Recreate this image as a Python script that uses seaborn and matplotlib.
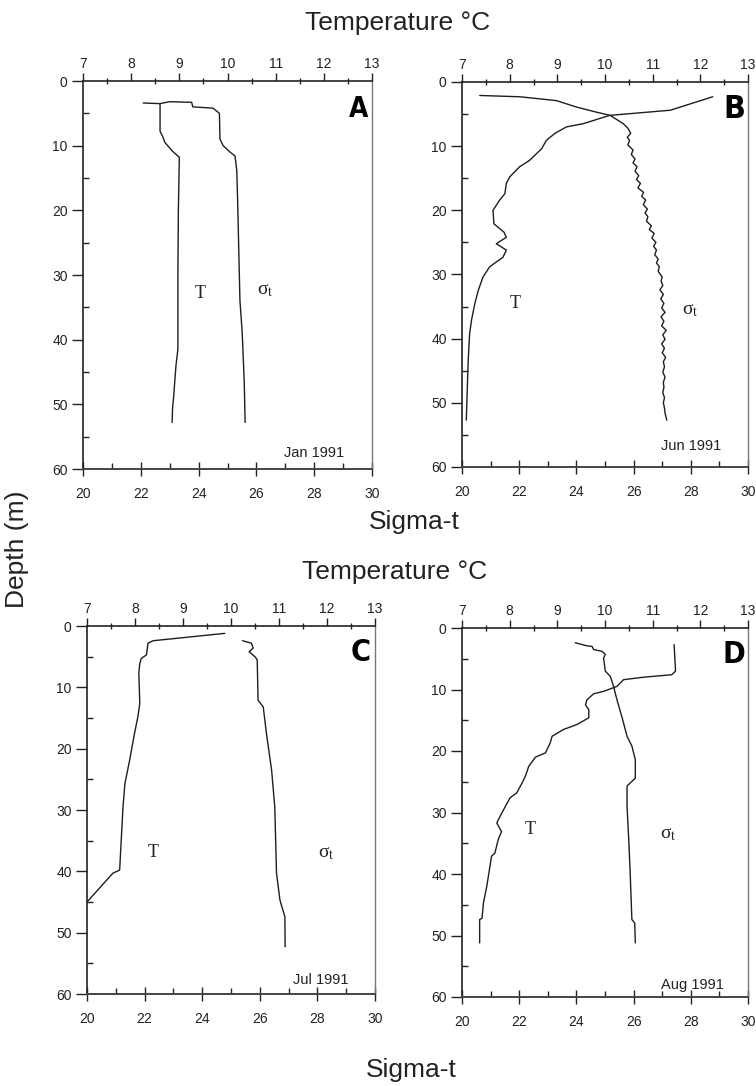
"""
Temperature / sigma-t depth profiles, Jan-Aug 1991 (four panels).
"""

import matplotlib
matplotlib.use("Agg")
import matplotlib.pyplot as plt
import seaborn as sns
from matplotlib.ticker import MultipleLocator

# --- data -----------------------------------------------------------------
# Jan 1991 (A)
jan_t_depth = [3.4, 3.5, 7.8, 8.5, 9.5, 10.8, 11.8, 20, 30, 41.5, 44, 49, 50.5, 52.8]
jan_temp = [8.25, 8.6, 8.6, 8.65, 8.7, 8.85, 9.0, 8.98, 8.97, 8.97, 8.93, 8.88, 8.86, 8.85]
jan_s_depth = [3.5, 3.2, 3.3, 4.0, 4.2, 5.0, 9.0, 10.0, 11.0, 11.6, 13.8, 18.4, 33.9, 39, 46.7, 52.8]
jan_sigma = [22.66, 23.0, 23.76, 23.8, 24.5, 24.72, 24.74, 24.85, 25.09, 25.26, 25.32, 25.35,
             25.43, 25.51, 25.58, 25.61]

# Jun 1991 (B)
jun_t_depth = [2.3, 4.4, 5.2, 6.5, 7.0, 8.0, 9.1, 10.4, 12.2, 13.2, 14.8, 15.8, 17.4, 18.4, 20.0,
               22.1, 23.4, 24.2, 25.2, 26.2, 27.3, 28.8, 30.4, 32.5, 34.5, 37.1, 39.2, 43.4, 52.7]
jun_temp = [12.26, 11.37, 10.1, 9.54, 9.19, 8.95, 8.77, 8.67, 8.42, 8.21, 8.0, 7.93, 7.9, 7.79, 7.65,
            7.67, 7.88, 7.93, 7.72, 7.93, 7.86, 7.58, 7.44, 7.34, 7.27, 7.2, 7.16, 7.13, 7.09]
jun_s_depth = [2.1, 2.3, 2.9, 3.9, 4.7, 5.2, 6.5, 7.2, 8.0, 8.6, 9.1, 9.8, 10.6, 11.3, 12.0, 12.6,
               13.2, 13.9, 14.6, 15.2, 15.8, 16.5, 17.2, 17.8, 18.4, 19.1, 19.8, 20.4, 21.0, 21.7,
               22.4, 23.0, 23.6, 24.3, 25.0, 25.6, 26.2, 26.9, 27.6, 28.2, 28.8, 29.5, 30.4, 31.0,
               31.7, 32.4, 33.1, 33.8, 34.5, 35.2, 35.9, 36.6, 37.3, 38.0, 38.7, 39.4, 40.1, 40.8,
               41.5, 42.2, 42.9, 43.6, 44.4, 45.2, 46.0, 46.8, 47.6, 48.4, 49.2, 50.0, 50.8, 51.6,
               52.7]
jun_sigma = [20.62, 22.02, 23.3, 24.0, 24.7, 25.18, 25.64, 25.80, 25.90, 25.78, 25.86, 25.80, 25.98,
             25.92, 26.05, 25.98, 26.12, 26.05, 26.18, 26.10, 26.24, 26.15, 26.35, 26.28, 26.42,
             26.34, 26.48, 26.40, 26.50, 26.45, 26.62, 26.55, 26.72, 26.64, 26.78, 26.70, 26.80,
             26.74, 26.86, 26.80, 26.90, 26.86, 27.0, 26.96, 27.02, 26.92, 27.04, 26.95, 27.06,
             26.98, 27.10, 26.96, 27.06, 26.98, 27.14, 27.02, 27.10, 26.98, 27.08, 27.00, 27.12,
             27.04, 27.08, 27.02, 27.10, 27.04, 27.06, 27.02, 27.08, 27.04, 27.08, 27.10, 27.16]

# Jul 1991 (C)
jul_t_depth = [1.2, 2.4, 2.8, 4.7, 5.3, 6.1, 7.7, 12.6, 14.8, 17.5, 21.8, 25.7, 29.5, 39.8, 40.3, 45.0]
jul_temp = [9.87, 8.38, 8.27, 8.24, 8.13, 8.1, 8.08, 8.1, 8.06, 7.99, 7.89, 7.79, 7.75, 7.68, 7.54, 7.0]
jul_s_depth = [2.4, 2.8, 3.6, 4.2, 5.0, 5.5, 12.1, 13.2, 17.5, 23.5, 29.5, 40.3, 44.7, 47.4, 52.3]
jul_sigma = [25.4, 25.71, 25.77, 25.63, 25.83, 25.91, 25.94, 26.12, 26.23, 26.41, 26.52, 26.58,
             26.7, 26.87, 26.88]

# Aug 1991 (D)
aug_t_depth = [2.7, 7.0, 7.6, 8.0, 8.4, 9.5, 10.3, 10.7, 11.7, 12.5, 13.3, 14.6, 15.7, 16.5, 17.6,
               18.7, 20.3, 21.0, 22.5, 24.1, 25.2, 26.8, 27.6, 29.0, 30.6, 31.7, 33.1, 34.4, 36.6,
               37.1, 42.0, 44.7, 47.2, 47.4, 51.2]
aug_temp = [11.45, 11.48, 11.4, 10.81, 10.39, 10.25, 9.97, 9.76, 9.62, 9.59, 9.66, 9.66, 9.41, 9.13,
            8.89, 8.85, 8.75, 8.54, 8.4, 8.33, 8.26, 8.15, 8.01, 7.91, 7.8, 7.73, 7.83, 7.76, 7.69,
            7.62, 7.52, 7.45, 7.42, 7.37, 7.37]
aug_s_depth = [2.4, 2.9, 3.0, 3.5, 3.8, 4.3, 4.9, 7.0, 7.9, 9.5, 11.7, 14.6, 17.6, 19.2, 21.4, 24.4,
               25.7, 29.0, 34.4, 39.8, 47.4, 48.0, 51.2]
aug_sigma = [23.96, 24.37, 24.55, 24.6, 24.9, 25.01, 24.95, 25.01, 25.19, 25.3, 25.42, 25.6, 25.77,
             25.94, 26.06, 26.06, 25.77, 25.77, 25.83, 25.88, 25.94, 26.04, 26.06]

panel_letters = ["A", "B", "C", "D"]
panel_months = ["Jan 1991", "Jun 1991", "Jul 1991", "Aug 1991"]

temp_ticks = [7, 8, 9, 10, 11, 12, 13]
sigma_ticks = [20, 22, 24, 26, 28, 30]
depth_ticks = [0, 10, 20, 30, 40, 50, 60]

# --- figure ----------------------------------------------------------------
sns.set_style("ticks")
plt.rcParams["font.family"] = ["Liberation Sans", "DejaVu Sans"]
plt.rcParams["mathtext.fontset"] = "stix"

W, H = 756, 1086
fig = plt.figure(figsize=(W / 100, H / 100), dpi=100)

def px_rect(left, top, right, bottom):
    return [left / W, 1 - bottom / H, (right - left) / W, (bottom - top) / H]

rects = [px_rect(83, 81, 372, 469), px_rect(462, 82, 748, 467),
         px_rect(87, 626, 375, 994), px_rect(462, 628, 748, 997)]
profiles = [(jan_t_depth, jan_temp, jan_s_depth, jan_sigma),
            (jun_t_depth, jun_temp, jun_s_depth, jun_sigma),
            (jul_t_depth, jul_temp, jul_s_depth, jul_sigma),
            (aug_t_depth, aug_temp, aug_s_depth, aug_sigma)]
# label positions (axes fraction x, depth m)
t_pos = [(0.405, 32.8), (0.185, 34.5), (0.23, 37.0), (0.24, 32.8)]
s_pos = [(0.63, 32.3), (0.80, 35.5), (0.83, 37.1), (0.72, 33.6)]
month_pos = [(0.80, 57.6), (0.80, 56.7), (0.81, 57.7), (0.805, 58.0)]
letter_size = [20, 23, 22, 22]

line_col = "#1e1e1e"
ink = "#222222"

for i, rect in enumerate(rects):
    t_depth, temp, s_depth, sigma = profiles[i]
    ax = fig.add_axes(rect)
    ax_t = ax.twiny()

    sns.lineplot(x=sigma, y=s_depth, sort=False, estimator=None, ax=ax,
                 color=line_col, linewidth=1.0)
    sns.lineplot(x=temp, y=t_depth, sort=False, estimator=None, ax=ax_t,
                 color=line_col, linewidth=1.0)

    ax.set_xlim(20, 30)
    ax_t.set_xlim(7, 13)
    ax.set_ylim(60, 0)
    ax.set_xlabel("")
    ax.set_ylabel("")
    ax_t.set_xlabel("")
    ax_t.set_ylabel("")

    ax.set_xticks(sigma_ticks)
    ax.xaxis.set_minor_locator(MultipleLocator(1))
    ax.set_yticks(depth_ticks)
    ax.yaxis.set_minor_locator(MultipleLocator(5))
    ax_t.set_xticks(temp_ticks)
    ax_t.xaxis.set_minor_locator(MultipleLocator(0.5))

    ax.tick_params(axis="x", which="major", direction="inout", length=10, width=1,
                   pad=8, labelsize=10, colors=ink)
    ax.tick_params(axis="x", which="minor", direction="in", length=4, width=1, color=ink)
    ax.tick_params(axis="y", which="major", direction="out", length=8, width=1,
                   pad=3, labelsize=10, colors=ink)
    ax.tick_params(axis="y", which="minor", direction="in", length=4, width=1, color=ink)
    ax_t.tick_params(axis="x", which="major", direction="out", length=6, width=1,
                     pad=1, labelsize=10, colors=ink)
    ax_t.tick_params(axis="x", which="minor", direction="inout", length=5, width=1, color=ink)

    for a in (ax, ax_t):
        for side in a.spines:
            a.spines[side].set_visible(False)
    ax.spines["left"].set_visible(True)
    ax.spines["left"].set_color(ink)
    ax.spines["left"].set_linewidth(1.2)
    ax.spines["bottom"].set_visible(True)
    ax.spines["bottom"].set_color("#444444")
    ax.spines["bottom"].set_linewidth(1.4)
    ax.spines["right"].set_visible(True)
    ax.spines["right"].set_color("#777777")
    ax.spines["right"].set_linewidth(1.0)
    ax_t.spines["top"].set_visible(True)
    ax_t.spines["top"].set_color(ink)
    ax_t.spines["top"].set_linewidth(1.2)

    tx, td = t_pos[i]
    ax.text(tx, 1 - td / 60, "T", transform=ax.transAxes, ha="center", va="center",
            fontsize=13, family="Liberation Serif", color=ink)
    sx, sd = s_pos[i]
    ax.text(sx, 1 - sd / 60, r"σ$_\mathrm{t}$", transform=ax.transAxes,
            ha="center", va="center", fontsize=14, family="Liberation Serif", color=ink)
    mx, md = month_pos[i]
    ax.text(mx, 1 - md / 60, panel_months[i], transform=ax.transAxes, ha="center",
            va="center", fontsize=10.5, color=ink)
    ax.text(0.952, 1 - 4.3 / 60, panel_letters[i], transform=ax.transAxes, ha="center",
            va="center", fontsize=letter_size[i], fontweight="bold", family="DejaVu Sans",
            fontstretch="condensed", color="black")

big = 19
fig.text(398 / W, 1 - 23 / H, "Temperature °C", ha="center", va="center", fontsize=big, color=ink)
fig.text(414 / W, 1 - 522 / H, "Sigma-t", ha="center", va="center", fontsize=big, color=ink)
fig.text(395 / W, 1 - 572 / H, "Temperature °C", ha="center", va="center", fontsize=big, color=ink)
fig.text(411 / W, 1 - 1070 / H, "Sigma-t", ha="center", va="center", fontsize=big, color=ink)
fig.text(17 / W, 1 - 549 / H, "Depth (m)", ha="center", va="center", rotation=90,
         fontsize=big, color=ink)

fig.savefig("out.png", dpi=100)
plt.close(fig)
